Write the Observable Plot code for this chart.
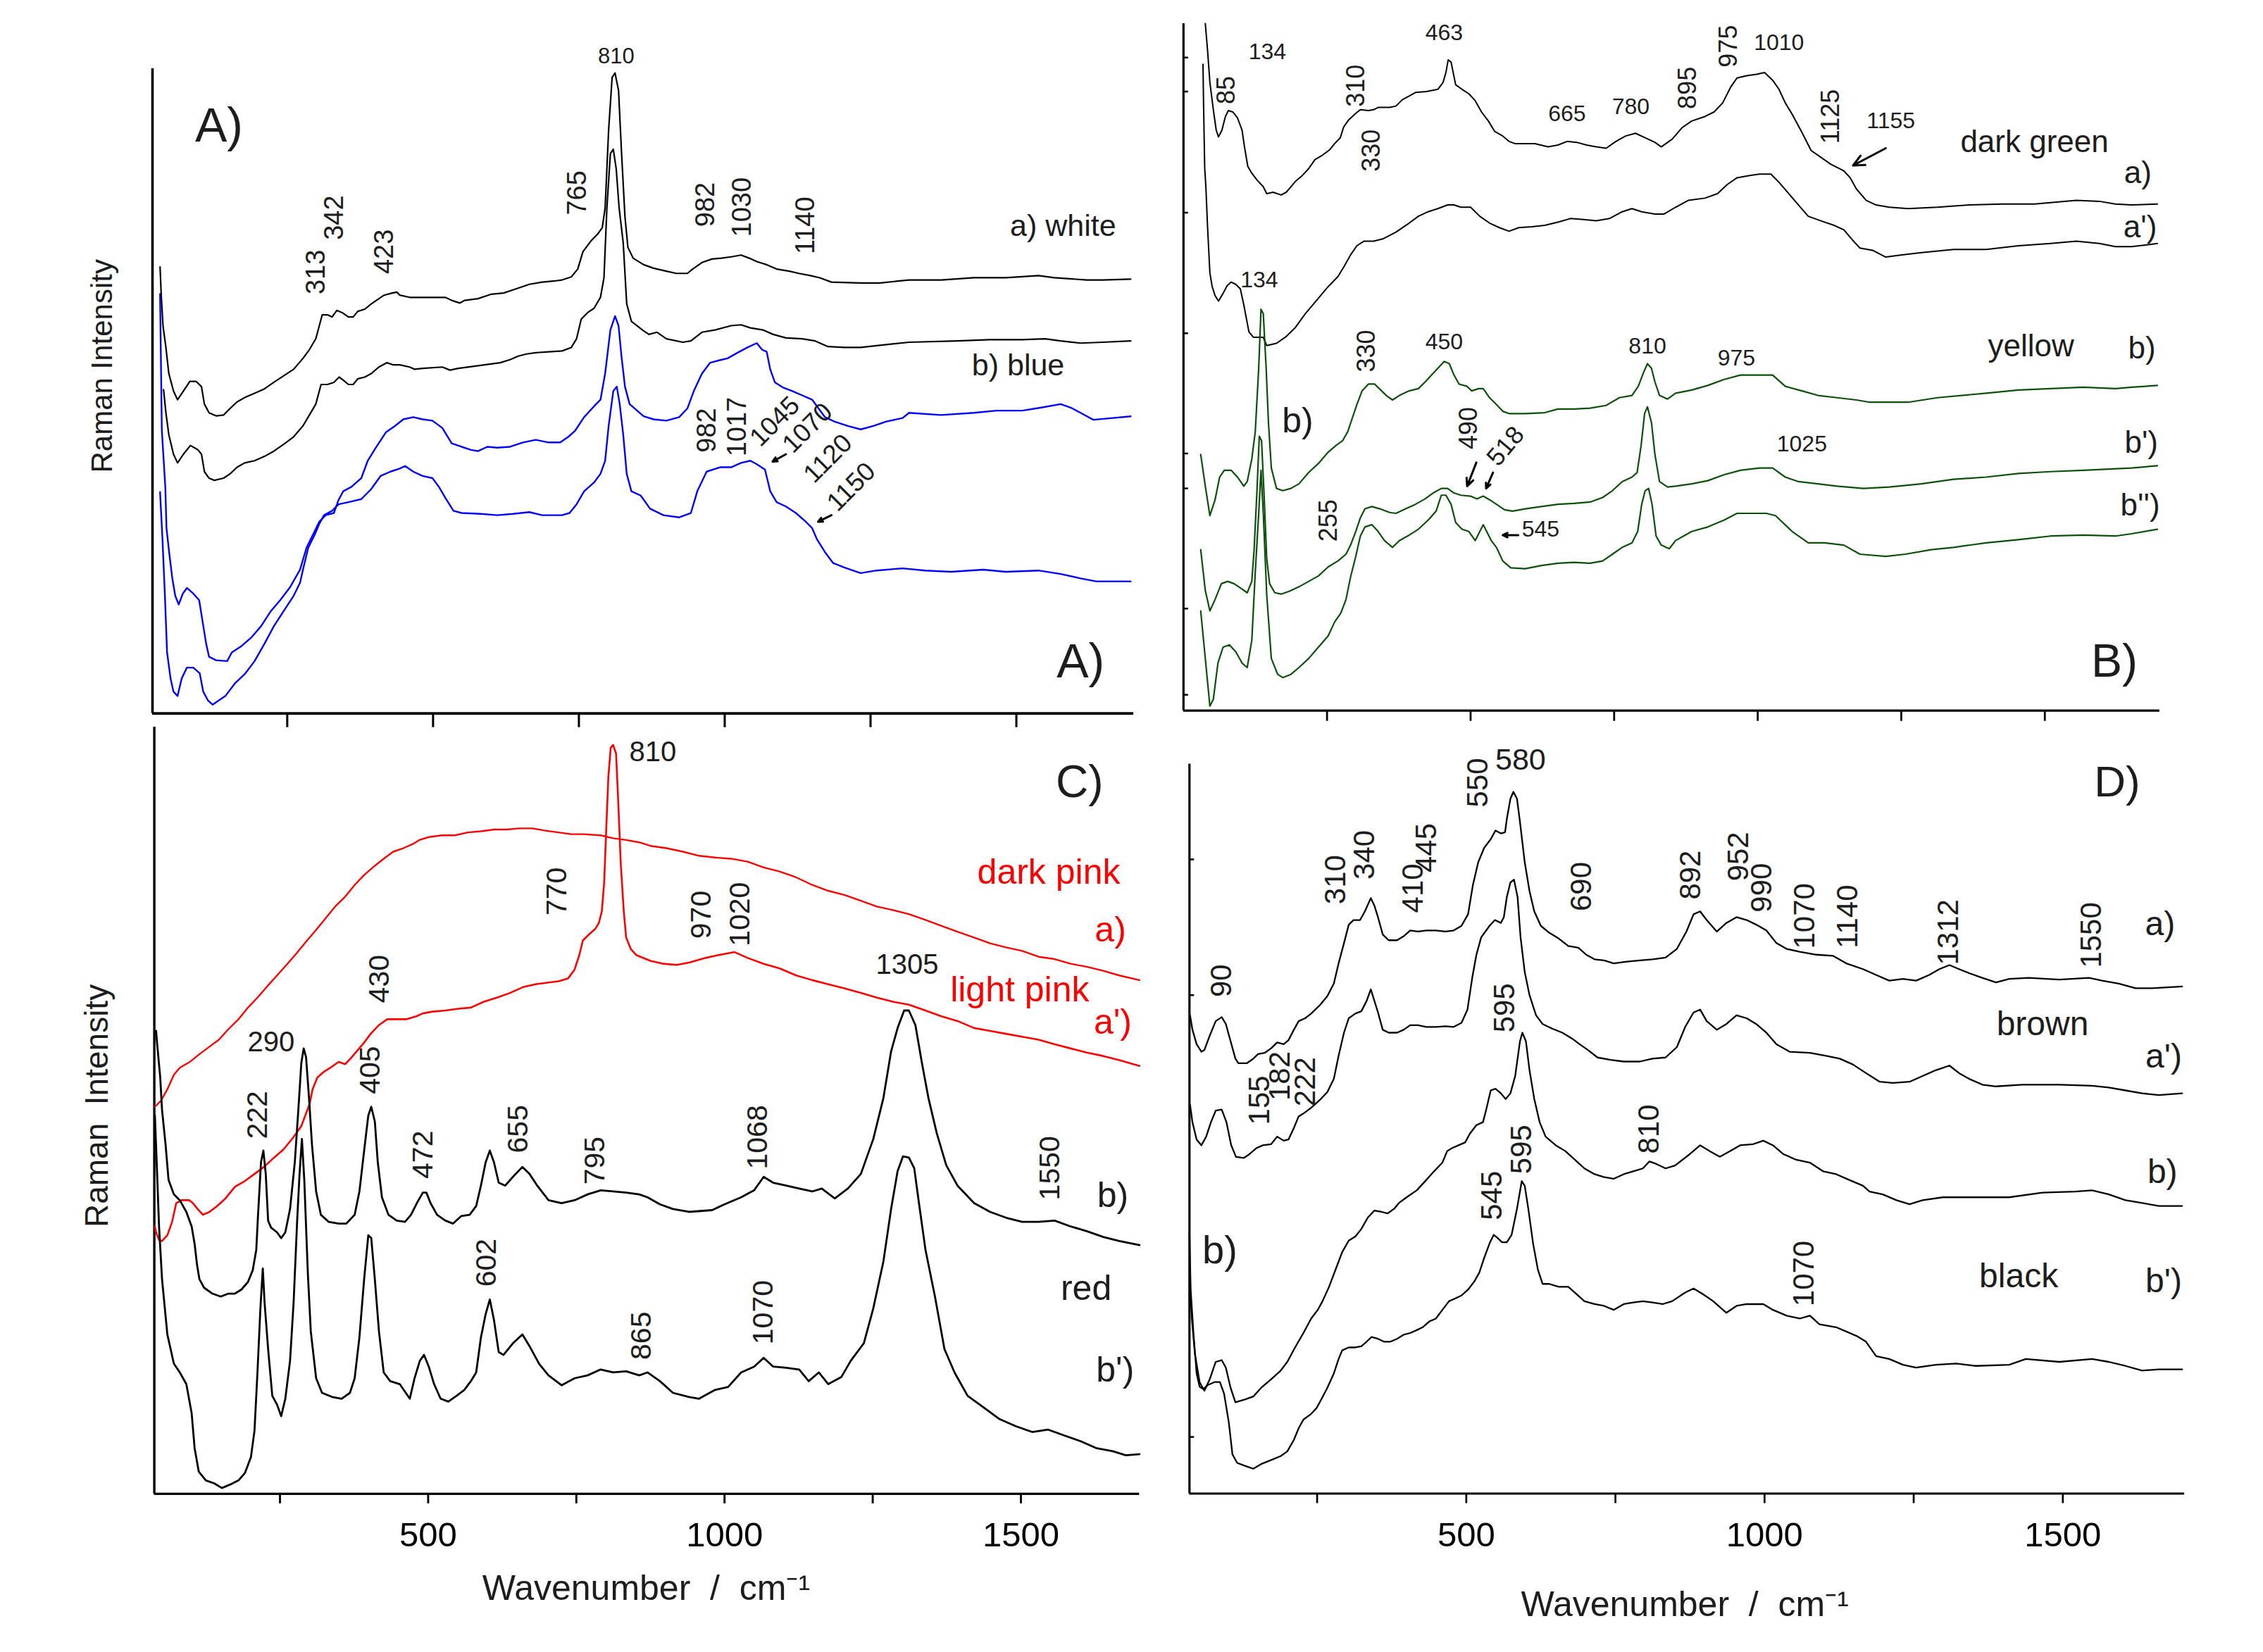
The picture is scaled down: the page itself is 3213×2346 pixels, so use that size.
<!DOCTYPE html>
<html>
<head>
<meta charset="utf-8">
<script src="https://cdn.jsdelivr.net/npm/d3@7"></script>
<script src="https://cdn.jsdelivr.net/npm/@observablehq/plot@0.6"></script>
<style>
  html, body { margin: 0; padding: 0; background: #fff; }
  #fig { position: relative; width: 3213px; height: 2346px; background: #fff; overflow: hidden; }
  #fig svg { position: absolute; }
</style>
</head>
<body>
<div id="fig"></div>
<script>
// ---------------- DATA (wavenumber / cm-1, Raman intensity a.u.) ----------------
// Panel A
const aWhite = [[32,1025],[34,960],[37,890],[42,840],[47,780],[55,740],[62,720],[72,740],[83,762],[94,762],[103,750],[108,710],[116,690],[128,683],[141,685],[152,700],[164,715],[177,725],[194,735],[211,745],[227,760],[244,775],[261,790],[277,815],[288,835],[299,860],[305,890],[310,915],[319,915],[327,910],[335,925],[344,920],[355,910],[363,910],[371,923],[383,928],[394,940],[405,950],[416,960],[430,965],[438,967],[443,960],[460,955],[488,955],[521,955],[532,948],[546,942],[554,948],[577,952],[599,962],[621,965],[643,975],[665,985],[687,990],[710,993],[721,995],[737,1002],[748,1020],[757,1060],[771,1085],[782,1100],[790,1115],[795,1160],[801,1340],[807,1460],[812,1470],[818,1430],[823,1290],[829,1140],[834,1070],[843,1045],[861,1030],[878,1022],[900,1015],[917,1010],[936,1010],[945,1020],[961,1035],[978,1043],[994,1045],[1011,1048],[1028,1052],[1042,1045],[1055,1037],[1072,1030],[1089,1020],[1111,1015],[1127,1010],[1147,1005],[1163,1000],[1183,990],[1233,988],[1266,988],[1316,995],[1371,995],[1427,1000],[1482,1000],[1538,1005],[1565,1000],[1621,995],[1648,995],[1696,997]];
const aBlack = [[38,743],[42,690],[47,640],[55,595],[62,575],[72,595],[84,615],[97,605],[103,595],[108,555],[116,540],[125,535],[141,540],[152,550],[164,565],[177,575],[194,580],[211,590],[227,602],[244,618],[261,635],[277,660],[288,685],[299,710],[308,755],[319,755],[330,760],[339,772],[346,765],[355,755],[363,755],[371,768],[383,772],[394,780],[407,795],[421,805],[432,800],[443,800],[460,795],[468,790],[482,792],[516,795],[529,788],[543,792],[577,798],[599,802],[615,805],[632,812],[646,820],[660,825],[676,828],[698,830],[721,832],[737,840],[746,860],[754,905],[765,920],[776,930],[787,955],[793,1000],[798,1160],[804,1285],[809,1295],[814,1250],[819,1160],[826,1080],[832,940],[840,900],[859,880],[870,870],[884,875],[900,860],[928,852],[942,855],[961,875],[983,880],[1011,890],[1028,892],[1044,885],[1066,880],[1083,870],[1105,862],[1133,860],[1155,855],[1177,842],[1205,840],[1233,840],[1266,845],[1316,852],[1399,855],[1454,858],[1510,858],[1549,860],[1576,855],[1610,850],[1648,852],[1696,855]];
const aBlue1 = [[32,963],[35,651],[41,519],[43,425],[48,365],[53,310],[58,270],[64,250],[71,275],[78,288],[89,275],[99,260],[105,210],[111,160],[116,130],[128,122],[147,120],[155,140],[172,155],[189,175],[205,200],[222,235],[238,260],[255,290],[272,330],[283,380],[294,410],[305,440],[316,455],[330,460],[338,490],[346,510],[360,520],[377,540],[388,580],[402,610],[419,645],[435,660],[449,675],[466,680],[482,675],[499,672],[516,655],[532,620],[549,612],[565,605],[577,602],[593,612],[610,610],[632,612],[654,622],[676,628],[698,622],[718,622],[732,635],[743,648],[759,680],[776,705],[787,720],[795,780],[804,880],[812,912],[818,890],[823,820],[829,750],[837,710],[861,682],[878,675],[900,672],[922,680],[936,700],[947,740],[961,780],[975,805],[989,810],[1005,815],[1022,828],[1039,840],[1055,850],[1064,835],[1072,830],[1078,790],[1086,760],[1100,748],[1116,740],[1133,730],[1150,720],[1172,680],[1188,670],[1211,660],[1233,652],[1255,660],[1277,670],[1305,678],[1316,690],[1371,685],[1427,690],[1466,695],[1510,695],[1543,702],[1576,710],[1593,702],[1610,690],[1632,674],[1665,678],[1696,682]];
const aBlue2 = [[32,508],[36,403],[40,280],[44,140],[50,80],[55,50],[62,40],[69,80],[78,105],[89,105],[100,92],[106,50],[114,30],[122,20],[133,30],[144,40],[161,70],[177,90],[194,120],[211,160],[227,200],[244,235],[261,270],[272,300],[277,330],[286,380],[297,410],[305,435],[313,455],[327,465],[338,480],[355,485],[377,492],[394,515],[410,545],[427,555],[443,562],[452,568],[466,555],[482,545],[499,540],[510,520],[521,495],[535,465],[549,460],[582,458],[610,455],[637,458],[665,462],[687,455],[721,455],[734,460],[746,480],[759,510],[776,530],[787,550],[795,580],[801,660],[809,740],[815,750],[820,710],[826,640],[832,550],[840,510],[856,500],[872,470],[895,455],[922,450],[942,460],[953,510],[969,555],[992,565],[1011,565],[1028,575],[1044,580],[1055,572],[1069,560],[1078,510],[1089,485],[1105,475],[1122,460],[1139,440],[1150,425],[1158,400],[1172,370],[1186,345],[1205,335],[1233,322],[1260,328],[1305,333],[1344,328],[1388,325],[1443,330],[1482,325],[1538,328],[1576,320],[1610,310],[1637,303],[1696,303]];

// Panel B
const bDarkGreenA = [[38,1515],[42,1455],[46,1385],[52,1325],[57,1280],[61,1265],[67,1280],[73,1310],[78,1323],[86,1320],[94,1307],[102,1280],[106,1245],[112,1200],[119,1185],[128,1170],[139,1155],[145,1140],[156,1143],[170,1137],[179,1143],[187,1155],[195,1167],[207,1180],[218,1195],[229,1215],[240,1223],[255,1237],[263,1250],[273,1263],[279,1287],[288,1303],[300,1317],[308,1325],[322,1323],[331,1325],[339,1330],[359,1330],[370,1333],[381,1347],[393,1355],[404,1363],[423,1365],[443,1370],[452,1385],[457,1407],[461,1435],[466,1430],[470,1405],[474,1380],[485,1370],[497,1360],[508,1345],[519,1320],[531,1300],[542,1277],[556,1267],[567,1255],[578,1250],[595,1250],[612,1250],[635,1243],[652,1247],[668,1255],[685,1253],[702,1247],[719,1243],[736,1240],[753,1255],[770,1267],[787,1273],[804,1263],[821,1253],[832,1243],[851,1260],[868,1285],[885,1300],[908,1310],[924,1320],[939,1340],[953,1375],[964,1395],[981,1400],[998,1403],[1012,1407],[1026,1390],[1037,1370],[1048,1340],[1060,1315],[1077,1275],[1093,1235],[1110,1220],[1127,1205],[1150,1190],[1161,1175],[1172,1150],[1189,1125],[1206,1115],[1229,1110],[1262,1107],[1313,1110],[1369,1115],[1426,1117],[1482,1117],[1555,1125],[1595,1123],[1623,1117],[1651,1115],[1696,1117]];
const bDarkGreenA2 = [[34,1425],[35,1335],[37,1195],[39,1155],[42,1065],[46,965],[50,935],[55,915],[61,903],[69,920],[76,937],[83,945],[91,940],[99,930],[105,895],[114,835],[122,823],[139,823],[145,805],[162,810],[179,825],[195,845],[212,875],[232,905],[252,935],[269,957],[280,980],[291,1005],[302,1025],[314,1035],[331,1035],[347,1040],[370,1055],[393,1075],[409,1090],[426,1100],[443,1107],[460,1115],[471,1115],[483,1110],[500,1110],[516,1090],[533,1075],[550,1065],[567,1057],[584,1065],[607,1067],[629,1070],[652,1077],[674,1085],[697,1083],[719,1080],[742,1085],[764,1100],[781,1107],[798,1100],[821,1095],[837,1095],[857,1110],[879,1125],[908,1130],[930,1140],[947,1160],[964,1175],[986,1180],[1003,1183],[1023,1183],[1037,1165],[1054,1140],[1071,1115],[1088,1090],[1110,1080],[1133,1070],[1150,1060],[1167,1035],[1178,1020],[1200,1015],[1223,1000],[1251,1005],[1285,1010],[1341,1017],[1398,1017],[1454,1025],[1510,1030],[1555,1035],[1595,1030],[1623,1023],[1651,1023],[1696,1030]];
const bYellowB = [[30,565],[38,495],[46,430],[55,465],[63,515],[71,530],[83,530],[94,515],[105,495],[111,505],[119,555],[125,615],[131,755],[135,885],[139,875],[144,755],[148,635],[153,535],[162,490],[173,485],[187,490],[201,500],[218,525],[235,545],[252,570],[266,585],[277,595],[286,615],[294,645],[302,675],[311,705],[322,720],[333,720],[345,705],[353,695],[364,685],[376,695],[393,705],[409,710],[421,725],[432,740],[443,755],[454,770],[463,765],[471,740],[480,720],[494,715],[502,705],[514,710],[522,710],[533,690],[545,675],[556,660],[567,655],[595,655],[629,657],[652,665],[680,665],[708,667],[736,673],[759,690],[781,695],[792,715],[801,745],[808,765],[815,755],[821,725],[829,695],[843,687],[857,700],[885,707],[913,717],[941,730],[970,740],[1003,740],[1026,740],[1048,715],[1077,705],[1105,695],[1138,690],[1172,685],[1195,680],[1262,680],[1313,690],[1398,700],[1454,707],[1510,710],[1567,713],[1623,710],[1651,713],[1696,717]];
const bYellowB2 = [[30,355],[38,265],[46,220],[55,245],[66,280],[77,285],[88,280],[100,270],[111,260],[119,285],[123,355],[128,485],[132,605],[136,595],[140,485],[145,335],[150,280],[159,260],[170,257],[184,263],[201,273],[218,285],[235,297],[252,317],[269,330],[283,345],[291,365],[300,395],[308,425],[316,445],[328,450],[342,445],[359,437],[370,435],[387,445],[404,455],[421,467],[435,480],[449,490],[460,490],[471,480],[483,475],[500,473],[511,467],[522,473],[533,465],[545,455],[559,443],[573,440],[595,445],[623,450],[652,455],[680,457],[708,460],[730,470],[747,485],[764,505],[781,515],[790,525],[797,585],[803,655],[808,670],[815,635],[821,565],[829,505],[843,493],[857,495],[885,500],[913,507],[941,520],[970,530],[1003,535],[1026,535],[1048,515],[1071,505],[1105,500],[1138,495],[1184,490],[1229,493],[1285,500],[1341,510],[1398,515],[1454,523],[1510,527],[1567,530],[1651,535],[1696,540]];
const bYellowB3 = [[30,220],[38,115],[46,10],[52,25],[60,105],[69,140],[80,145],[91,130],[102,105],[111,95],[119,155],[125,305],[131,435],[135,530],[139,435],[145,255],[153,115],[164,80],[173,73],[187,80],[201,95],[218,115],[235,140],[252,165],[263,195],[274,215],[283,245],[291,295],[300,340],[308,385],[316,405],[328,410],[339,395],[350,375],[364,360],[376,375],[393,387],[409,400],[426,420],[440,440],[449,475],[457,475],[466,455],[474,415],[485,400],[497,395],[508,375],[516,395],[522,410],[528,395],[536,375],[545,360],[556,330],[570,315],[595,313],[623,320],[652,325],[680,327],[708,325],[730,330],[747,345],[764,360],[781,370],[791,395],[798,455],[804,485],[810,490],[816,455],[823,385],[832,365],[846,357],[857,375],[885,395],[913,405],[941,420],[964,435],[1015,435],[1031,430],[1060,395],[1088,370],[1116,370],[1150,365],[1178,345],[1223,340],[1257,345],[1302,355],[1341,360],[1398,370],[1454,377],[1510,385],[1567,387],[1623,385],[1651,390],[1696,400]];

// Panel C
const cDarkPink = [[39,663],[49,673],[60,693],[71,718],[81,730],[98,740],[114,753],[131,766],[147,778],[163,796],[180,813],[196,833],[212,850],[229,870],[245,888],[261,906],[278,926],[294,946],[311,966],[327,986],[343,1006],[360,1023],[376,1043],[392,1060],[409,1075],[425,1088],[441,1100],[458,1106],[474,1113],[485,1120],[501,1125],[523,1128],[545,1128],[567,1133],[589,1135],[611,1138],[632,1138],[654,1140],[676,1140],[698,1136],[720,1133],[741,1130],[763,1130],[791,1128],[812,1123],[834,1120],[856,1116],[875,1110],[902,1106],[930,1100],[957,1093],[984,1090],[1011,1088],[1039,1083],[1066,1073],[1093,1066],[1121,1056],[1148,1043],[1175,1033],[1202,1026],[1230,1016],[1257,1006],[1284,1000],[1311,993],[1339,983],[1366,973],[1393,963],[1421,953],[1448,943],[1475,936],[1502,930],[1530,920],[1557,916],[1584,908],[1611,903],[1639,896],[1666,888],[1700,880]];
const cLightPink = [[39,458],[41,448],[46,435],[51,433],[60,443],[68,466],[75,498],[84,503],[97,503],[103,498],[111,488],[120,478],[131,483],[144,493],[158,506],[174,526],[191,536],[207,548],[223,560],[240,576],[256,590],[272,610],[286,630],[300,668],[305,693],[313,713],[324,723],[338,732],[349,740],[360,736],[371,748],[381,760],[392,773],[403,788],[417,803],[431,813],[447,813],[463,813],[480,818],[491,823],[507,826],[529,828],[551,831],[572,833],[594,843],[616,850],[638,858],[660,868],[681,873],[703,876],[720,878],[736,883],[747,898],[755,923],[761,948],[771,958],[782,968],[788,978],[793,998],[797,1048],[800,1128],[804,1228],[808,1278],[812,1283],[817,1268],[821,1178],[825,1078],[830,998],[834,953],[842,933],[851,923],[875,913],[897,908],[919,906],[940,910],[968,918],[990,923],[1017,928],[1039,918],[1066,908],[1093,900],[1121,888],[1148,880],[1175,873],[1202,866],[1230,858],[1257,850],[1284,843],[1311,838],[1339,828],[1366,818],[1393,810],[1421,798],[1448,793],[1475,788],[1502,783],[1530,778],[1557,770],[1584,763],[1611,756],[1639,750],[1666,743],[1700,733]];
const cRedB = [[41,793],[43,768],[48,713],[51,658],[57,598],[62,538],[71,513],[81,503],[92,483],[101,458],[106,428],[110,393],[114,368],[122,353],[136,343],[150,338],[163,343],[174,343],[185,350],[196,363],[204,383],[210,418],[213,478],[218,568],[222,588],[226,548],[230,468],[235,456],[245,448],[252,438],[259,448],[267,488],[275,568],[281,658],[286,738],[290,763],[294,748],[299,678],[304,598],[311,518],[319,478],[332,466],[349,463],[362,463],[376,478],[384,518],[392,588],[399,648],[404,663],[410,638],[415,568],[422,508],[433,478],[447,468],[461,466],[471,478],[482,500],[491,516],[497,516],[504,498],[515,478],[529,468],[542,463],[556,476],[570,478],[581,493],[589,528],[597,568],[604,588],[611,568],[619,533],[630,528],[643,543],[659,560],[671,548],[684,528],[703,503],[725,498],[747,503],[769,513],[791,520],[812,518],[834,516],[856,513],[870,508],[891,496],[913,488],[940,483],[979,486],[1000,496],[1028,508],[1050,520],[1066,543],[1082,533],[1104,528],[1126,523],[1148,518],[1164,523],[1186,506],[1208,523],[1230,548],[1251,608],[1268,678],[1281,758],[1292,798],[1303,828],[1311,828],[1322,803],[1333,738],[1344,678],[1358,618],[1374,563],[1393,528],[1421,498],[1448,483],[1475,473],[1502,466],[1530,466],[1557,468],[1584,458],[1611,450],[1639,440],[1666,433],[1700,426]];
const cRedB2 = [[39,648],[42,568],[46,458],[51,368],[60,273],[71,223],[81,208],[92,188],[101,138],[106,78],[113,38],[125,23],[139,18],[152,10],[166,16],[180,23],[191,36],[201,63],[207,108],[212,208],[217,318],[221,386],[224,328],[230,248],[237,168],[245,153],[252,133],[259,163],[267,228],[273,328],[279,468],[283,548],[287,608],[291,538],[297,378],[302,278],[311,198],[321,173],[338,166],[354,163],[368,173],[376,198],[384,268],[392,368],[399,443],[404,438],[410,368],[417,278],[425,208],[436,193],[452,188],[469,163],[477,198],[486,228],[493,238],[501,218],[510,188],[521,163],[534,158],[548,168],[561,178],[572,193],[581,208],[589,268],[597,308],[604,333],[611,298],[619,243],[627,238],[643,258],[659,273],[671,253],[687,223],[703,203],[725,186],[747,198],[769,203],[791,213],[812,208],[834,210],[856,203],[870,208],[891,193],[913,173],[940,166],[957,163],[984,178],[1006,183],[1028,208],[1050,218],[1066,233],[1082,218],[1104,216],[1126,213],[1142,193],[1159,208],[1175,188],[1197,200],[1213,228],[1235,258],[1251,318],[1268,398],[1281,488],[1292,553],[1301,578],[1311,576],[1320,558],[1328,498],[1339,418],[1355,338],[1371,248],[1388,208],[1410,168],[1437,148],[1464,128],[1491,116],[1519,106],[1546,110],[1573,100],[1601,90],[1628,78],[1655,73],[1677,66],[1700,68]];

// Panel D
const dBrownA = [[37,828],[41,803],[48,778],[56,765],[61,768],[70,793],[80,818],[90,825],[97,813],[105,783],[113,753],[118,745],[132,745],[143,753],[151,761],[162,763],[173,771],[183,781],[194,778],[202,785],[211,803],[219,818],[230,823],[240,831],[254,845],[267,861],[278,883],[286,918],[295,953],[303,985],[311,993],[322,993],[330,1008],[340,1031],[346,1018],[352,998],[360,968],[370,958],[384,958],[395,965],[406,975],[419,973],[433,975],[449,975],[465,973],[479,975],[492,983],[503,1003],[511,1053],[520,1093],[530,1118],[541,1133],[549,1148],[558,1143],[565,1145],[568,1168],[574,1203],[579,1215],[585,1203],[590,1163],[598,1093],[606,1043],[614,1008],[625,983],[639,971],[655,961],[671,948],[688,945],[701,933],[715,925],[731,923],[747,918],[769,921],[791,923],[812,925],[834,928],[853,943],[869,973],[881,1003],[892,1008],[903,993],[920,973],[936,988],[953,998],[970,993],[986,985],[1003,975],[1020,953],[1037,943],[1059,938],[1087,933],[1115,931],[1137,918],[1165,908],[1187,898],[1209,888],[1232,891],[1254,888],[1276,898],[1293,908],[1310,915],[1326,908],[1343,901],[1365,893],[1388,885],[1410,891],[1443,893],[1494,890],[1544,893],[1566,888],[1594,883],[1622,875],[1650,875],[1700,878]];
const dBrownA2 = [[37,673],[41,643],[48,613],[56,603],[64,618],[72,643],[80,663],[90,665],[98,643],[106,603],[114,583],[127,581],[137,588],[148,598],[159,603],[173,605],[183,618],[194,611],[202,613],[211,633],[219,653],[227,658],[240,668],[254,681],[267,695],[278,718],[286,758],[295,798],[303,823],[314,831],[324,835],[333,853],[340,873],[346,853],[352,833],[360,803],[370,798],[384,798],[395,803],[406,811],[419,811],[433,808],[449,808],[465,809],[479,808],[492,815],[502,838],[510,893],[517,933],[525,963],[539,983],[548,993],[558,988],[563,998],[568,1033],[574,1058],[580,1063],[586,1033],[591,963],[598,903],[606,863],[617,828],[628,813],[644,805],[661,798],[677,788],[690,778],[704,768],[720,755],[742,751],[764,748],[791,748],[812,753],[834,755],[853,773],[867,808],[881,833],[892,838],[903,818],[920,803],[936,813],[953,828],[970,823],[986,813],[1003,798],[1020,778],[1042,765],[1076,763],[1103,758],[1126,753],[1148,743],[1170,728],[1193,713],[1215,711],[1243,713],[1265,723],[1287,733],[1310,741],[1326,728],[1343,718],[1365,708],[1388,705],[1432,708],[1494,708],[1549,706],[1577,703],[1605,698],[1633,693],[1661,690],[1700,693]];
const dBlackB = [[37,363],[40,303],[45,243],[53,193],[61,178],[70,198],[80,228],[90,231],[97,218],[105,183],[113,158],[129,163],[143,168],[156,183],[173,198],[189,213],[200,228],[213,253],[227,278],[240,303],[251,318],[259,333],[270,358],[281,388],[292,418],[303,438],[314,445],[324,458],[335,478],[346,490],[357,488],[368,485],[379,493],[387,503],[400,513],[417,525],[433,543],[446,558],[460,573],[468,593],[476,598],[487,603],[498,608],[506,623],[517,638],[528,643],[533,663],[541,698],[549,701],[558,693],[566,683],[574,693],[582,723],[590,783],[594,798],[600,783],[606,733],[614,683],[623,643],[633,618],[650,603],[666,593],[682,578],[698,563],[715,553],[731,548],[747,545],[764,553],[780,558],[796,563],[807,575],[818,571],[834,563],[850,568],[875,588],[892,603],[908,593],[925,583],[942,593],[959,603],[981,605],[998,611],[1014,603],[1031,588],[1053,578],[1076,573],[1098,558],[1120,553],[1142,543],[1165,533],[1176,523],[1198,518],[1221,508],[1243,501],[1265,508],[1299,513],[1354,513],[1410,513],[1466,521],[1521,523],[1549,525],[1577,518],[1605,508],[1633,503],[1661,498],[1700,498]];
const dBlackB2 = [[36,453],[38,353],[43,273],[48,208],[53,185],[59,181],[67,188],[78,193],[87,193],[94,173],[102,123],[108,68],[116,53],[129,48],[143,43],[156,51],[173,58],[189,65],[200,73],[211,93],[219,113],[227,128],[240,138],[249,148],[257,163],[267,183],[278,208],[286,233],[292,248],[303,253],[314,253],[324,255],[333,263],[341,271],[352,268],[362,263],[373,263],[384,268],[395,275],[406,278],[417,283],[427,288],[438,298],[449,303],[460,318],[471,333],[482,338],[492,343],[503,353],[514,368],[522,383],[530,408],[539,433],[546,448],[552,443],[560,435],[568,435],[576,448],[585,493],[593,541],[598,533],[604,493],[612,433],[620,388],[628,363],[639,363],[655,358],[671,358],[682,348],[698,333],[715,328],[731,325],[747,318],[764,328],[780,331],[796,333],[812,331],[829,328],[845,333],[867,348],[881,355],[897,345],[914,333],[936,313],[953,325],[970,328],[998,328],[1014,318],[1037,308],[1059,303],[1076,308],[1092,293],[1120,288],[1154,273],[1170,263],[1187,238],[1209,233],[1232,223],[1254,218],[1287,223],[1321,225],[1354,221],[1410,223],[1438,233],[1494,228],[1549,233],[1577,228],[1605,221],[1633,213],[1661,215],[1700,215]];

// Tick values and annotation texts: [text, wavenumber, intensity]
const xTicks = [250, 500, 750, 1000, 1250, 1500];
const xLabelled = [500, 1000, 1500];

const aPeakH = [["810", 814, 1508]];
const aPeakV = [["313",299,1013],["342",331,1138],["423",417,1060],["765",748,1195],["982",967,1168],["1030",1030,1162],["1140",1139,1120],["982",970,650],["1017",1022,658]];
const aPeakD = [["1045",1086,670],["1070",1142,655],["1120",1177,585],["1150",1217,520]];
const aArrows = [[1105,595,1082,578],[1183,455,1160,440]];
const aTags = [["a) white",1580,1118],["b) blue",1503,798]];
const aPanel = [["A)",133,1348],["A)",1610,118]];

const bPeakH = [["134",146,1452],["463",454,1495],["665",668,1315],["780",779,1332],["1010",1037,1473],["1155",1232,1300],["134",132,950],["450",454,812],["810",808,803],["975",963,777],["545",622,400],["1025",1077,587]];
const bPeakV = [["85",75,1368],["310",301,1378],["330",328,1235],["895",879,1373],["975",949,1465],["1125",1127,1310],["330",319,793],["490",497,623],["255",253,419]];
const bPeakD = [["518",561,583]];
const bArrows = [[1223,1240,1166,1202],[510,547,494,495],[539,525,527,490],[583,387,556,387]];
const bNames = [["dark green",1482,1253],["yellow",1476,803]];
const bTags = [["a)",1662,1185],["a')",1666,1065],["b)",1669,798],["b')",1668,590],["b'')",1666,453]];
const bTagBig = [["b)",199,638]];
const bPanel = [["B)",1621,108]];
const bYTicks = [1440,1365,1098,832,567,490,225,35];

const cPeakH = [["810",879,1271],["290",235,773],["1305",1308,906]];
const cPeakV = [["770",718,1032],["970",961,992],["1020",1026,993],["430",418,882],["222",212,649],["405",403,726],["472",492,581],["655",652,625],["795",782,571],["602",598,396],["865",860,271],["1068",1056,611],["1070",1066,311],["1550",1549,558]];
const cPinkNames = [["dark pink",1547,1065],["light pink",1498,863]];
const cPinkTags = [["a)",1651,966],["a')",1655,808]];
const cTags = [["b)",1655,511],["red",1610,351],["b')",1659,211]];
const cPanel = [["C)",1599,1218]];

const dPeakH = [["580",591,1270]];
const dPeakV = [["550",520,1231],["310",281,1063],["340",330,1106],["410",411,1048],["445",433,1118],["690",693,1051],["90",90,888],["155",154,681],["182",188,723],["222",230,713],["595",565,841],["810",807,631],["545",543,516],["595",593,596],["892",876,1071],["952",957,1103],["990",995,1049],["1070",1067,1000],["1140",1140,999],["1312",1308,972],["1550",1548,967],["1070",1066,381]];
const dNames = [["brown",1466,813],["black",1426,376]];
const dTags = [["a)",1663,986],["a')",1669,756],["b)",1667,557],["b')",1669,368]];
const dTagBig = [["b)",87,421]];
const dPanel = [["D)",1591,1231]];
const dYTicks = [1098,863,98];

const yLabel = "Raman Intensity";
const xLabel = "Wavenumber  /  cm\u207B\u00B9";

// ---------------- RENDERING ----------------
const FONT = "'Liberation Sans', Arial, Helvetica, sans-serif";
const TXT = "#1d1d1d";
const BLUE = "#0000ff", GREEN = "#0b4f0b", RED = "#ff0000", BLACK = "#000000";

function curve(data, stroke, sw) {
  return Plot.line(data, {x: d => d[0], y: d => d[1], stroke, strokeWidth: sw, strokeLinejoin: "round", strokeLinecap: "round"});
}
function txt(data, o) {
  return Plot.text(data, {
    x: d => d[1], y: d => d[2], text: d => d[0],
    fill: o.fill || TXT, fontSize: o.size, rotate: o.rotate || 0,
    textAnchor: "middle", lineAnchor: "middle",
    ariaLabel: "ls-" + (o.ls || 0)
  });
}
function arrows(data, sw) {
  return Plot.arrow(data, {x1: d => d[0], y1: d => d[1], x2: d => d[2], y2: d => d[3],
    stroke: BLACK, strokeWidth: sw, headLength: 14, headAngle: 50});
}
function frameText(s, o) {
  return Plot.text([s], {text: d => d, frameAnchor: o.anchor, dx: o.dx, dy: o.dy, rotate: o.rotate || 0,
    fontSize: o.size, fill: TXT, textAnchor: "middle", lineAnchor: "middle"});
}

function panel(p, marks) {
  const frameW = p.fr - p.fl;
  const base = [
    Plot.ruleX([p.xDomain[0]], {stroke: BLACK, strokeWidth: p.aw}),
    Plot.ruleY([0], {stroke: BLACK, strokeWidth: p.aw}),
    Plot.axisX({
      ticks: xTicks, tickSize: p.ts, tickPadding: 26, strokeWidth: p.aw * 0.85,
      fontSize: 49, label: null,
      tickFormat: p.tickLabels ? (d => xLabelled.includes(d) ? String(d) : "") : (() => "")
    })
  ];
  if (p.yTicks) base.push(Plot.tickY(p.yTicks, {y: d => d, stroke: BLACK, strokeWidth: 2.5, insetRight: frameW - 7}));
  const svg = Plot.plot({
    width: p.w, height: p.h,
    marginLeft: p.fl - p.left, marginRight: p.left + p.w - p.fr,
    marginTop: p.ft - p.top, marginBottom: p.top + p.h - p.fb,
    x: {domain: p.xDomain},
    y: {domain: [0, p.yMax], axis: null},
    style: {background: "transparent", overflow: "visible", fontFamily: FONT, color: "#000"},
    marks: [...base, ...marks]
  });
  svg.style.left = p.left + "px";
  svg.style.top = p.top + "px";
  svg.style.maxWidth = "none";
  svg.querySelectorAll('g[aria-label^="ls-"]').forEach(g => {
    const v = g.getAttribute("aria-label").slice(3);
    if (v !== "0") g.setAttribute("letter-spacing", v);
  });
  document.getElementById("fig").appendChild(svg);
}

// Panel A
panel({left: 0, top: 0, w: 1640, h: 1030, fl: 216, fr: 1609, ft: 97, fb: 1012.6,
       xDomain: [19, 1701], yMax: 1480, aw: 3.6, ts: 20, tickLabels: false}, [
  curve(aBlue2, BLUE, 2.4),
  curve(aBlue1, BLUE, 2.4),
  curve(aBlack, BLACK, 2.2),
  curve(aWhite, BLACK, 2.2),
  txt(aPeakH, {size: 31, ls: 5}),
  txt(aPeakV, {size: 38, rotate: -90}),
  txt(aPeakD, {size: 37, rotate: -45}),
  arrows(aArrows, 3),
  txt(aTags, {size: 43, ls: 3}),
  txt(aPanel, {size: 68, ls: 2}),
  frameText(yLabel, {anchor: "left", dx: -71, dy: -35.5, rotate: -90, size: 42})
]);

// Panel B
panel({left: 1640, top: 0, w: 1573, h: 1030, fl: 1679.8, fr: 3065.8, ft: 32.9, fb: 1008.7,
       xDomain: [0, 1700], yMax: 1515, aw: 3.2, ts: 15, tickLabels: false, yTicks: bYTicks}, [
  curve(bDarkGreenA2, BLACK, 2),
  curve(bDarkGreenA, BLACK, 2),
  curve(bYellowB3, GREEN, 2.2),
  curve(bYellowB2, GREEN, 2.2),
  curve(bYellowB, GREEN, 2.2),
  txt(bPeakH, {size: 32, ls: 3.5}),
  txt(bPeakV, {size: 36, rotate: -90}),
  txt(bPeakD, {size: 36, rotate: -50}),
  arrows(bArrows, 3),
  txt(bNames, {size: 44, ls: 3}),
  txt(bTags, {size: 44, ls: 4}),
  txt(bTagBig, {size: 50, ls: 4}),
  txt(bPanel, {size: 66, ls: 3})
]);

// Panel C
panel({left: 0, top: 1030, w: 1640, h: 1316, fl: 218.6, fr: 1617.3, ft: 1032, fb: 2120.9,
       xDomain: [38, 1700], yMax: 1313.5, aw: 3.4, ts: 14, tickLabels: true}, [
  curve(cDarkPink, RED, 2.4),
  curve(cLightPink, RED, 2.6),
  curve(cRedB2, BLACK, 2.8),
  curve(cRedB, BLACK, 2.8),
  txt(cPeakH, {size: 40, ls: 1}),
  txt(cPeakV, {size: 41, rotate: -90}),
  txt(cPinkNames, {size: 50, ls: 2.5, fill: RED}),
  txt(cPinkTags, {size: 50, ls: 2.5, fill: RED}),
  txt(cTags, {size: 50, ls: 2.5}),
  txt(cPanel, {size: 64, ls: 3}),
  frameText(yLabel.replace(" ", "  "), {anchor: "left", dx: -81, dy: -6.5, rotate: -90, size: 46}),
  frameText(xLabel, {anchor: "bottom", dx: -1, dy: 135, size: 50})
]);

// Panel D
panel({left: 1640, top: 1030, w: 1573, h: 1316, fl: 1688.3, fr: 3101.1, ft: 1084.6, fb: 2120.5,
       xDomain: [36, 1704], yMax: 1263, aw: 3.2, ts: 14, tickLabels: true, yTicks: dYTicks}, [
  curve(dBlackB2, BLACK, 2.3),
  curve(dBlackB, BLACK, 2.3),
  curve(dBrownA2, BLACK, 2.3),
  curve(dBrownA, BLACK, 2.3),
  txt(dPeakH, {size: 43, ls: 2}),
  txt(dPeakV, {size: 42, rotate: -90}),
  txt(dNames, {size: 48, ls: 4}),
  txt(dTags, {size: 48, ls: 6}),
  txt(dTagBig, {size: 56, ls: 4}),
  txt(dPanel, {size: 62, ls: 3}),
  frameText(xLabel, {anchor: "bottom", dx: -3, dy: 157.5, size: 50})
]);
</script>
</body>
</html>
